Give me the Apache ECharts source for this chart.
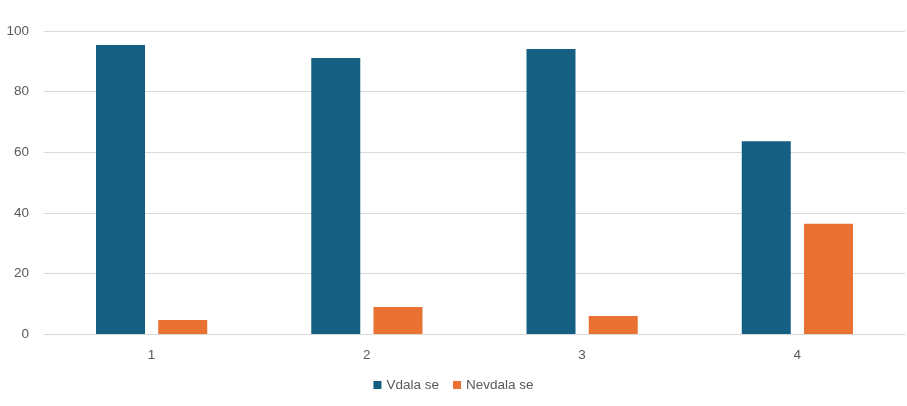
<!DOCTYPE html>
<html>
<head>
<meta charset="utf-8">
<script src="https://cdn.jsdelivr.net/npm/echarts@6/dist/echarts.min.js"></script>
<style>html,body{margin:0;padding:0;background:#fff}#c{width:907px;height:406px}</style>
</head>
<body>
<div id="c"></div>
<script>
var categories = ['1', '2', '3', '4'];
var vdalaSe = [95.4, 91.1, 94.1, 63.6];
var nevdalaSe = [4.6, 8.9, 5.9, 36.4];
var seriesNames = ['Vdala se', 'Nevdala se'];

var chart = echarts.init(document.getElementById('c'));
var font = '"Liberation Sans", Arial, sans-serif';
chart.setOption({
  animation: false,
  textStyle: { fontFamily: font },
  grid: { left: 44, right: 2, top: 31, bottom: 72 },
  legend: {
    data: seriesNames,
    bottom: 9,
    left: 'center',
    icon: 'rect',
    itemWidth: 8,
    itemHeight: 8,
    itemGap: 14,
    textStyle: { color: '#595959', fontSize: 13.5, fontFamily: font }
  },
  xAxis: {
    type: 'category',
    data: categories,
    axisLine: { lineStyle: { color: '#d9d9d9' } },
    axisTick: { show: false },
    axisLabel: { color: '#595959', fontSize: 13.5, margin: 14, fontFamily: font }
  },
  yAxis: {
    type: 'value',
    min: 0,
    max: 100,
    interval: 20,
    axisLine: { show: false },
    axisTick: { show: false },
    splitLine: { lineStyle: { color: '#d9d9d9' } },
    axisLabel: { color: '#595959', fontSize: 13.5, margin: 15, fontFamily: font }
  },
  series: [
    { name: seriesNames[0], type: 'bar', data: vdalaSe, barWidth: 49, barGap: '27%', itemStyle: { color: '#156082' } },
    { name: seriesNames[1], type: 'bar', data: nevdalaSe, barWidth: 49, barGap: '27%', itemStyle: { color: '#E97132' } }
  ]
});
</script>
</body>
</html>
